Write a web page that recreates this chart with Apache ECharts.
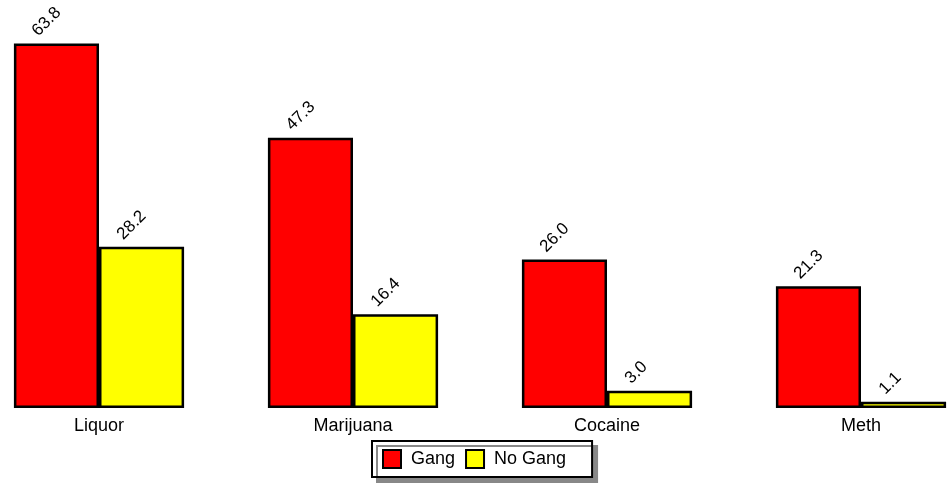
<!DOCTYPE html>
<html>
<head>
<meta charset="utf-8">
<script src="https://cdn.jsdelivr.net/npm/echarts@6/dist/echarts.min.js"></script>
<style>
  html, body { margin: 0; padding: 0; background: #fff; overflow: hidden; width: 949px; height: 487px; }
  /* the plot's first and last category bands run past the page edges */
  #chart { position: absolute; left: -28px; top: 0; width: 1016px; height: 487px; }
</style>
</head>
<body>
<div id="chart"></div>
<script>
// Substance use by gang membership (%)
const categories = ['Liquor', 'Marijuana', 'Cocaine', 'Meth'];
const gangValues = [63.8, 47.3, 26.0, 21.3];
const noGangValues = [28.2, 16.4, 3.0, 1.1];
const seriesNames = ['Gang', 'No Gang'];

const FONT = '"Liberation Sans", Arial, Helvetica, sans-serif';

const valueLabel = {
  show: true,
  position: [21, -10],
  rotate: 45,
  align: 'left',
  verticalAlign: 'middle',
  color: '#000',
  fontFamily: FONT,
  fontSize: 17,
  formatter: p => Number(p.value).toFixed(1)
};

const chart = echarts.init(document.getElementById('chart'), null, { renderer: 'canvas' });
chart.setOption({
  animation: false,
  backgroundColor: '#fff',
  grid: { left: 0, right: 0, top: 8, bottom: 79, containLabel: false },
  legend: {
    data: seriesNames,
    left: 400,
    top: 441,
    orient: 'horizontal',
    icon: 'rect',
    itemWidth: 18,
    itemHeight: 18,
    itemGap: 10,
    padding: [8, 26, 8, 10],
    backgroundColor: '#fff',
    borderColor: '#000',
    borderWidth: 2,
    shadowColor: '#888',
    shadowOffsetX: 5,
    shadowOffsetY: 5,
    shadowBlur: 0,
    textStyle: { fontFamily: FONT, fontSize: 18, color: '#000', padding: [0, 0, 0, 5] }
  },
  xAxis: {
    type: 'category',
    data: categories,
    axisLine: { show: false },
    axisTick: { show: false },
    axisLabel: { fontFamily: FONT, fontSize: 18, color: '#000', margin: 9 }
  },
  yAxis: {
    type: 'value',
    min: 0,
    max: 70,
    show: false,
    splitLine: { show: false }
  },
  series: [
    {
      name: seriesNames[0],
      type: 'bar',
      data: gangValues,
      barGap: '0%',
      barCategoryGap: '33%',
      itemStyle: { color: '#ff0000', borderColor: '#000', borderWidth: 2.5 },
      label: valueLabel
    },
    {
      name: seriesNames[1],
      type: 'bar',
      data: noGangValues,
      barGap: '0%',
      barCategoryGap: '33%',
      itemStyle: { color: '#ffff00', borderColor: '#000', borderWidth: 2.5 },
      label: valueLabel
    }
  ]
});
</script>
</body>
</html>
